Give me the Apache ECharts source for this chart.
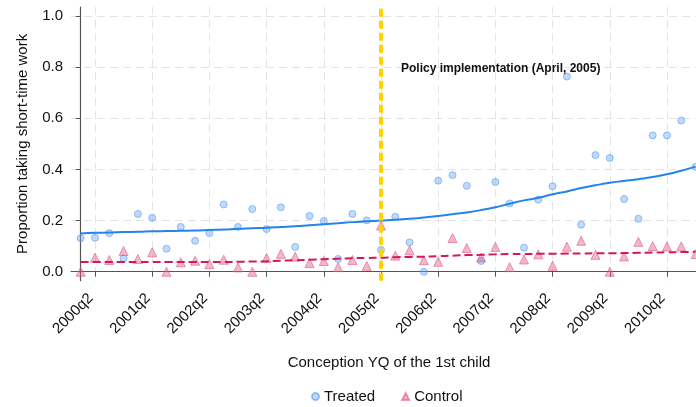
<!DOCTYPE html>
<html><head><meta charset="utf-8">
<script src="https://cdn.jsdelivr.net/npm/echarts@6/dist/echarts.min.js"></script>
<style>html,body{margin:0;padding:0;background:#fff}#c{width:696px;height:407px}</style>
</head><body><div id="c"></div>
<script>
const quarters = ['2000q1','2000q2','2000q3','2000q4','2001q1','2001q2','2001q3','2001q4','2002q1','2002q2','2002q3','2002q4',
  '2003q1','2003q2','2003q3','2003q4','2004q1','2004q2','2004q3','2004q4','2005q1','2005q2','2005q3','2005q4',
  '2006q1','2006q2','2006q3','2006q4','2007q1','2007q2','2007q3','2007q4','2008q1','2008q2','2008q3','2008q4',
  '2009q1','2009q2','2009q3','2009q4','2010q1','2010q2','2010q3','2010q4'];
const tickLabels = ['2000q2','2001q2','2002q2','2003q2','2004q2','2005q2','2006q2','2007q2','2008q2','2009q2','2010q2'];
const yTicks = [0, 0.2, 0.4, 0.6, 0.8, 1.0];
const treated = [0.131,0.133,0.151,0.052,0.226,0.211,0.090,0.175,0.121,0.151,0.263,
  0.175,0.245,0.167,0.252,0.097,0.218,0.198,0.050,0.226,0.201,0.085,
  0.215,0.115,0.000,0.356,0.378,0.336,0.042,0.351,0.267,0.094,0.282,
  0.334,0.763,0.184,0.456,0.445,0.284,0.207,0.533,0.533,0.591,0.410];
const control = [0.000,0.055,0.046,0.081,0.050,0.076,0.000,0.037,0.043,0.030,0.047,
  0.017,0.000,0.054,0.070,0.059,0.034,0.042,0.018,0.046,0.023,0.181,
  0.063,0.084,0.045,0.039,0.132,0.093,0.056,0.097,0.018,0.048,0.068,
  0.023,0.098,0.121,0.066,0.000,0.060,0.117,0.100,0.099,0.099,0.069];
const treatedFit = [0.150,0.152,0.153,0.155,0.156,0.158,0.159,0.160,0.161,0.163,0.165,
  0.168,0.170,0.172,0.175,0.178,0.182,0.186,0.190,0.194,0.197,0.200,
  0.203,0.207,0.212,0.218,0.225,0.232,0.241,0.252,0.266,0.279,0.289,
  0.303,0.314,0.327,0.338,0.348,0.355,0.362,0.370,0.381,0.395,0.411];
const controlFit = [0.038,0.038,0.038,0.038,0.038,0.038,0.038,0.038,0.038,0.038,0.038,
  0.039,0.040,0.041,0.043,0.045,0.047,0.049,0.051,0.053,0.054,0.055,
  0.057,0.058,0.059,0.061,0.063,0.065,0.066,0.068,0.069,0.069,0.070,
  0.070,0.071,0.071,0.072,0.072,0.073,0.074,0.075,0.076,0.077,0.078];
const policyQuarter = '2005q2';
const annotation = 'Policy implementation (April, 2005)';

const FONT = '"Liberation Sans", Arial, sans-serif';
const idx = q => quarters.indexOf(q);
const pairs = arr => arr.map((v, i) => [i, v]);
const tickIdx = tickLabels.map(idx);

const chart = echarts.init(document.getElementById('c'));
chart.setOption({
  backgroundColor: '#fff',
  animation: false,
  grid: { left: 71, right: 0, top: 7, bottom: 126.3, containLabel: false },
  xAxis: {
    type: 'value', min: -0.678, max: 43.03,
    axisLine: { show: true, lineStyle: { color: '#555', width: 1.2 } },
    axisTick: { show: true, length: 5, customValues: tickIdx, lineStyle: { color: '#555' } },
    axisLabel: { customValues: tickIdx, rotate: 45, margin: 11, padding: [0, 6, 0, 0], fontSize: 15, color: '#111', fontFamily: FONT,
      formatter: v => quarters[Math.round(v)] },
    splitLine: { show: true, lineStyle: { color: '#e4e4e4', type: [8, 5], width: 1 } }
  },
  yAxis: {
    type: 'value', min: -0.035, max: 1.035,
    name: 'Proportion taking short-time work', nameLocation: 'middle', nameGap: 41, nameMoveOverlap: false,
    nameTextStyle: { fontSize: 15, color: '#111', fontFamily: FONT },
    axisLine: { show: true, lineStyle: { color: '#555', width: 1.2 } },
    axisTick: { show: true, length: 5, customValues: yTicks, lineStyle: { color: '#555' } },
    axisLabel: { customValues: yTicks, margin: 8, fontSize: 15, color: '#111', fontFamily: FONT,
      formatter: v => v.toFixed(1) },
    splitLine: { show: true, lineStyle: { color: '#e4e4e4', type: [8, 5], width: 1 } }
  },
  legend: {
    data: ['Treated', 'Control'], left: 306, top: 384, itemWidth: 7, itemHeight: 7, itemGap: 26,
    textStyle: { fontSize: 15, color: '#111', fontFamily: FONT }
  },
  graphic: [
    { type: 'text', left: 401, top: 63, z: 10,
      style: { text: annotation, fontSize: 12, fontWeight: 'bold', fill: '#111', fontFamily: FONT } },
    { type: 'text', x: 389, y: 363, z: 10,
      style: { text: 'Conception YQ of the 1st child', fontSize: 15, fill: '#111', fontFamily: FONT,
        align: 'center', verticalAlign: 'middle' } }
  ],
  series: [
    { type: 'line', data: [], z: 1, silent: true,
      markLine: { symbol: 'none', silent: true, label: { show: false },
        lineStyle: { color: '#FFD300', width: 4, type: [8, 4] },
        data: [{ xAxis: idx(policyQuarter) }] } },
    { name: 'Treated', type: 'scatter', data: pairs(treated), symbol: 'circle', symbolSize: 7, z: 3,
      itemStyle: { color: 'rgba(110,170,245,0.55)', borderColor: 'rgba(90,155,240,0.75)', borderWidth: 1 } },
    { name: 'Control', type: 'scatter', data: pairs(control), symbol: 'triangle', symbolSize: 9, z: 3,
      itemStyle: { color: 'rgba(228,90,140,0.55)', borderColor: 'rgba(220,80,130,0.7)', borderWidth: 1 } },
    { name: 'TreatedFit', type: 'line', data: pairs(treatedFit), smooth: true, showSymbol: false, z: 4,
      lineStyle: { color: '#2284ec', width: 2 } },
    { name: 'ControlFit', type: 'line', data: pairs(controlFit), smooth: true, showSymbol: false, z: 4,
      lineStyle: { color: '#d4185a', width: 2, type: [8, 4] } }
  ]
});
</script></body></html>
